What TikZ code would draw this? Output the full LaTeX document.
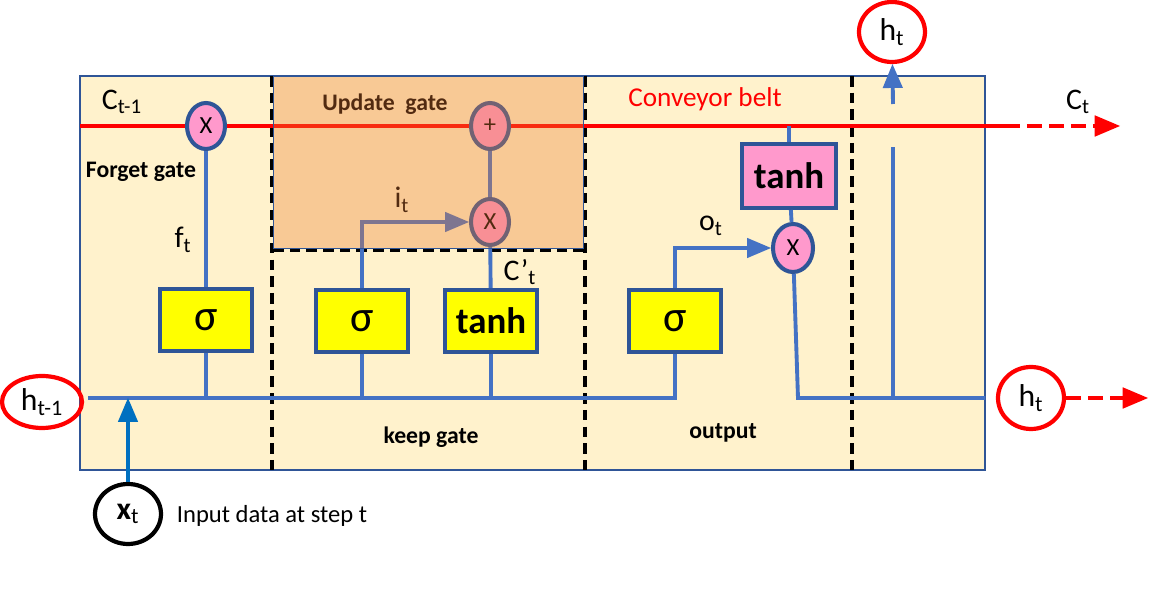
\documentclass[tikz,border=0pt]{standalone}
\usepackage{fontspec}
\setmainfont{Carlito}
\usetikzlibrary{arrows,shapes.geometric}
\definecolor{cellbg}{HTML}{FFF2CC}
\definecolor{edgeblue}{HTML}{2F5597}
\definecolor{wireblue}{HTML}{4472C4}
\definecolor{inblue}{HTML}{0070C0}
\definecolor{gatepink}{HTML}{FF99CC}
\definecolor{sigyellow}{HTML}{FFFF00}
\definecolor{updorange}{HTML}{ED7D31}
\tikzstyle{mult}=[ellipse,draw=edgeblue,fill=gatepink,line width=2.3pt,minimum width=0.76cm,minimum height=0.92cm,inner sep=0pt,font=\fontsize{14}{14}\selectfont]
\tikzstyle{act}=[rectangle,draw=edgeblue,fill=sigyellow,line width=2.3pt,minimum width=1.84cm,minimum height=1.24cm,inner sep=0pt,font=\fontsize{25}{25}\selectfont]
\tikzstyle{state}=[ellipse,draw=red,line width=2.4pt,minimum width=1.32cm,minimum height=1.2cm,inner sep=0pt,font=\fontsize{18}{18}\selectfont]
\tikzstyle{lbl}=[inner sep=0pt,font=\fontsize{17}{17}\selectfont]
\tikzstyle{gatelbl}=[inner sep=0pt,font=\fontsize{13.5}{13.5}\selectfont\bfseries]
\tikzstyle{wire}=[draw=wireblue,line width=2.2pt]
\tikzstyle{arr}=[->,>=triangle 45,wire]
\tikzstyle{inarr}=[->,>=triangle 45,draw=inblue,line width=2.2pt]
\tikzstyle{belt}=[draw=red,line width=2.4pt]
\tikzstyle{beltarr}=[->,>=triangle 45,belt,dash pattern=on 8.5pt off 4pt]
\tikzstyle{sep}=[draw=black,line width=2pt,dash pattern=on 6pt off 3.5pt]
\begin{document}
\begin{tikzpicture}[x=0.02cm,y=-0.02cm]
  \useasboundingbox (0,0) rectangle (1161,604);
  % cell background and gate borders
  \draw[edgeblue,line width=0.8pt,fill=cellbg] (80,76) rectangle (985,470);
  \draw[sep] (272,76) -- (272,470);
  \draw[sep] (273,250) -- (585,250);
  \draw[sep] (585,76) -- (585,470);
  \draw[sep] (852,76) -- (852,472);

  % gates
  \node[mult] (fgx) at (206,126) {X};
  \node[mult] (updplus) at (490,126) {+};
  \node[mult] (updx) at (490,222) {X};
  \node[mult,minimum width=0.8cm,minimum height=0.96cm] (outx) at (793,248) {X};
  \node[act] (sig1) at (206,320) {σ};
  \node[act] (sig2) at (362,321) {σ};
  \node[act,font=\fontsize{21}{21}\selectfont\bfseries] (tanh1) at (491,321) {tanh};
  \node[act] (sig3) at (675,321) {σ};
  \node[act,fill=gatepink,minimum width=1.88cm,minimum height=1.28cm,font=\fontsize{21}{21}\selectfont\bfseries] (tanh2) at (789,176) {tanh};

  % inputs and outputs
  \node[state,minimum width=1.6cm,minimum height=1.04cm] (hprev) at (42,402) {h\textsubscript{t-1}};
  \node[state,draw=black] (xin) at (128,514) {\textbf{x}\textsubscript{t}};
  \node[state] (htop) at (892,32) {h\textsubscript{t}};
  \node[state,minimum height=1.24cm] (hout) at (1031,398) {h\textsubscript{t}};

  \coordinate (cstart) at (80,126);
  \coordinate (cend) at (1005,126);
  \coordinate (carr) at (1120,126);
  \coordinate (beltjoin) at (789,126);
  \coordinate (hl) at (88,398);
  \coordinate (obend) at (798,398);
  \coordinate (hup) at (893,398);
  \coordinate (gaplo) at (893,147);
  \coordinate (gaphi) at (893,104);
  \coordinate (houtend) at (1148,398);

  % conveyor belt
  \draw[belt] (cstart) -- (fgx) -- (updplus) -- (cend);
  \draw[beltarr] (cend) -- (carr);

  % hidden state line
  \draw[wire] (hl) -- (sig3 |- hl) -- (sig3);
  \draw[inarr] (xin) -- (xin |- hl);
  \draw[wire] (sig1) -- (sig1 |- hl);
  \draw[wire] (sig2) -- (sig2 |- hl);
  \draw[wire] (tanh1) -- (tanh1 |- hl);

  % forget and update
  \draw[wire] (sig1) -- (fgx);
  \draw[arr] (sig2) |- (updx);
  \draw[wire] (tanh1) -- (updx);
  \draw[wire] (updx) -- (updplus);

  % output
  \draw[arr] (sig3) |- (outx);
  \draw[wire] (beltjoin) -- (tanh2);
  \draw[wire] (tanh2) -- (outx);
  \draw[wire,shorten >=6pt] (outx) -- (obend) -- (hout);
  \draw[wire] (hup) -- (gaplo);
  \draw[arr] (gaphi) -- (htop);
  \draw[beltarr] (hout) -- (houtend);

  % labels
  \node[lbl] (lcprev) at (122,102) {C\textsubscript{t-1}};
  \node[gatelbl] (lforget) at (141,172) {Forget gate};
  \node[lbl] (lf) at (183,240) {f\textsubscript{t}};
  \node[gatelbl] (lupdate) at (385,104) {Update\ \ gate};
  \node[lbl] (li) at (402,200) {i\textsubscript{t}};
  \node[lbl] (lcand) at (520,272) {C’\textsubscript{t}};
  \node[gatelbl] (lkeep) at (431,437) {keep gate};
  \node[lbl,text=red,font=\fontsize{15.5}{15.5}\selectfont] (lbelt) at (705,99) {Conveyor belt};
  \node[lbl] (lo) at (711,226) {o\textsubscript{t}};
  \node[gatelbl] (lout) at (723,433) {output};
  \node[lbl] (lct) at (1078,102) {C\textsubscript{t}};
  \node[lbl,font=\fontsize{14}{14}\selectfont] (linput) at (272,516) {Input data at step t};

  % update gate overlay
  \draw[edgeblue,line width=0.5pt,fill=updorange,fill opacity=0.35] (273,76) rectangle (583,248);
\end{tikzpicture}
\end{document}
